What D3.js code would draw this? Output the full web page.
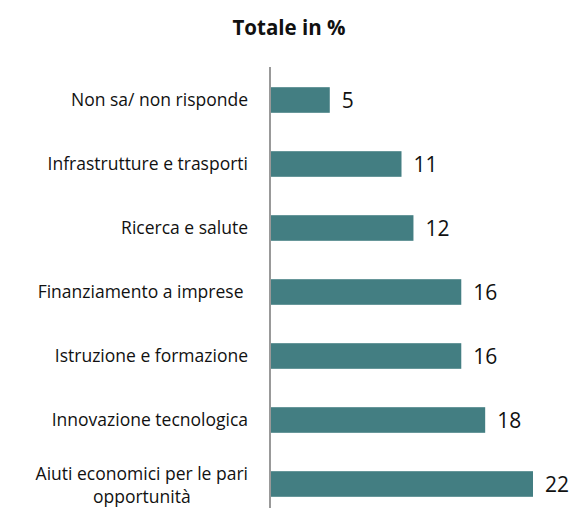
<!DOCTYPE html>
<html>
<head>
<meta charset="utf-8">
<script src="https://cdn.jsdelivr.net/npm/d3@7"></script>
<style>
  body { margin: 0; background: #fff; }
  text { font-family: "Open Sans", sans-serif; fill: #111; }
</style>
</head>
<body>
<div id="chart"></div>
<script>
// Data
var categories = [
  "Non sa/ non risponde",
  "Infrastrutture e trasporti",
  "Ricerca e salute",
  "Finanziamento a imprese ",
  "Istruzione e formazione",
  "Innovazione tecnologica",
  "Aiuti economici per le pari opportunità"
];
var values = [5, 11, 12, 16, 16, 18, 22];

var w = 572;
var h = 508;
var axisX = 270;

var svg = d3
  .select("#chart")
  .append("svg")
  .attr("width", w)
  .attr("height", h);

var xScale = d3.scaleLinear().domain([0, 22]).range([axisX, 533]);

var yScale = d3
  .scaleBand()
  .domain(categories)
  .range([68, 516])
  .paddingInner(0.6)
  .paddingOuter(0.3);

// Title
svg
  .append("text")
  .attr("x", 289)
  .attr("y", 35)
  .attr("text-anchor", "middle")
  .style("font-size", "20.5px")
  .style("font-weight", "bold")
  .text("Totale in %");

// Bars
svg
  .selectAll("rect.bar")
  .data(values)
  .enter()
  .append("rect")
  .attr("class", "bar")
  .attr("x", xScale(0))
  .attr("y", function (d, i) {
    return yScale(categories[i]);
  })
  .attr("width", function (d) {
    return xScale(d) - xScale(0);
  })
  .attr("height", yScale.bandwidth())
  .style("fill", "#437e82");

// Value labels
svg
  .selectAll("text.val")
  .data(values)
  .enter()
  .append("text")
  .attr("class", "val")
  .attr("x", function (d) {
    return xScale(d) + 12;
  })
  .attr("y", function (d, i) {
    return yScale(categories[i]) + yScale.bandwidth() / 2;
  })
  .attr("dy", "0.36em")
  .style("font-size", "21px")
  .text(function (d) {
    return d;
  });

// Category labels
var labelRight = 248;
var labelSize = "17.5px";
categories.forEach(function (c, i) {
  var cy = yScale(c) + yScale.bandwidth() / 2;
  if (i === categories.length - 1) {
    var t = svg
      .append("text")
      .attr("text-anchor", "end")
      .attr("x", labelRight)
      .attr("y", cy - 10)
      .attr("dy", "0.36em")
      .style("font-size", labelSize)
      .text("Aiuti economici per le pari");
    var tw = t.node().getComputedTextLength();
    svg
      .append("text")
      .attr("text-anchor", "middle")
      .attr("x", labelRight - tw / 2)
      .attr("y", cy + 13)
      .attr("dy", "0.36em")
      .style("font-size", labelSize)
      .text("opportunità");
  } else {
    svg
      .append("text")
      .attr("text-anchor", "end")
      .attr("x", labelRight)
      .attr("y", cy)
      .attr("dy", "0.36em")
      .style("font-size", labelSize)
      .style("white-space", "pre")
      .text(c);
  }
});

// Axis line
svg
  .append("line")
  .attr("x1", axisX)
  .attr("x2", axisX)
  .attr("y1", 67)
  .attr("y2", h)
  .style("stroke", "#999")
  .style("stroke-width", 2);
</script>
</body>
</html>
